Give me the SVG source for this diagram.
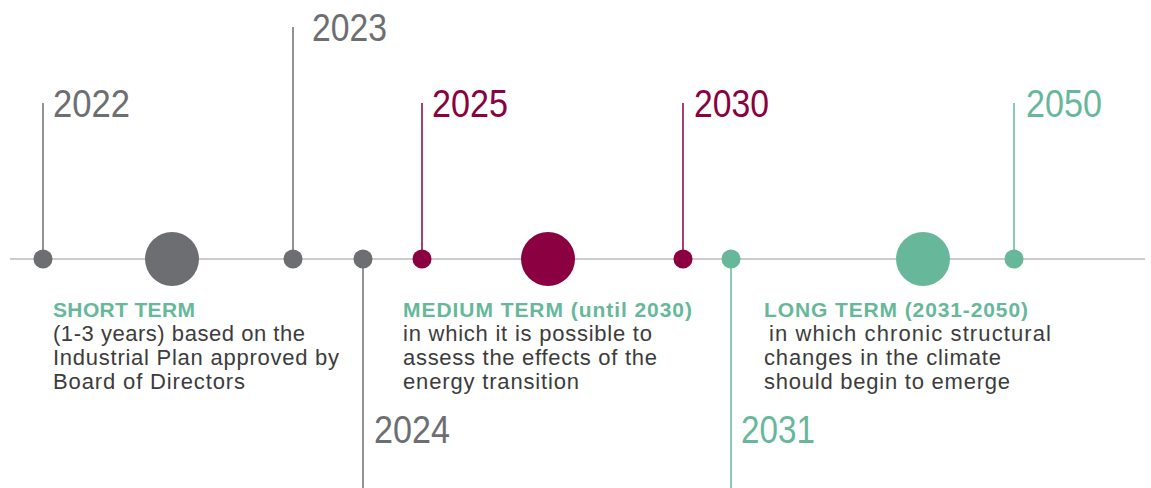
<svg xmlns="http://www.w3.org/2000/svg" width="1151" height="488" viewBox="0 0 1151 488">
<style>
.axis{stroke:#cccccc;stroke-width:2;fill:none}
.g{fill:#6d6e71}.m{fill:#8a0040}.t{fill:#67b89a}
.lg{stroke:#6d6e71;stroke-width:1.5}.lm{stroke:#8a0040;stroke-width:1.5}.lt{stroke:#67b89a;stroke-width:1.5}
.yr{font-family:"Liberation Sans",Arial,sans-serif;font-size:38px}
.hd{font-family:"Liberation Sans",Arial,sans-serif;font-size:21px;font-weight:bold;fill:#67b89a}
.bd{font-family:"Liberation Sans",Arial,sans-serif;font-size:22px;fill:#3c3c3c}
</style>
<g id="connectors">
<line class="axis" x1="10" y1="259" x2="1145" y2="259"/>
<line class="lg" x1="43" y1="103" x2="43" y2="259"/>
<line class="lg" x1="293" y1="27" x2="293" y2="259"/>
<line class="lg" x1="363" y1="259" x2="363" y2="488"/>
<line class="lm" x1="422" y1="103" x2="422" y2="259"/>
<line class="lm" x1="683" y1="103" x2="683" y2="259"/>
<line class="lt" x1="731" y1="259" x2="731" y2="488"/>
<line class="lt" x1="1014" y1="103" x2="1014" y2="259"/>
</g>
<g id="y2022"><circle class="g" cx="43" cy="259" r="9.5"/><text class="yr g" x="53" y="117" textLength="77" lengthAdjust="spacingAndGlyphs">2022</text></g>
<g id="short-dot"><circle class="g" cx="172" cy="259" r="27"/></g>
<g id="y2023"><circle class="g" cx="293" cy="259" r="9.5"/><text class="yr g" x="312" y="41" textLength="75" lengthAdjust="spacingAndGlyphs">2023</text></g>
<g id="y2024"><circle class="g" cx="363" cy="259" r="9.5"/><text class="yr g" x="374" y="443" textLength="76" lengthAdjust="spacingAndGlyphs">2024</text></g>
<g id="y2025"><circle class="m" cx="422" cy="259" r="9.5"/><text class="yr m" x="432" y="117" textLength="76" lengthAdjust="spacingAndGlyphs">2025</text></g>
<g id="medium-dot"><circle class="m" cx="548" cy="259" r="27"/></g>
<g id="y2030"><circle class="m" cx="683" cy="259" r="9.5"/><text class="yr m" x="694" y="117" textLength="75" lengthAdjust="spacingAndGlyphs">2030</text></g>
<g id="y2031"><circle class="t" cx="731" cy="259" r="9.5"/><text class="yr t" x="741" y="443" textLength="74" lengthAdjust="spacingAndGlyphs">2031</text></g>
<g id="long-dot"><circle class="t" cx="923" cy="259" r="27"/></g>
<g id="y2050"><circle class="t" cx="1014" cy="259" r="9.5"/><text class="yr t" x="1026" y="117" textLength="76" lengthAdjust="spacingAndGlyphs">2050</text></g>
<g id="short-term">
<text class="hd" x="53" y="317" textLength="142">SHORT TERM</text>
<text class="bd" x="53" y="341" textLength="252">(1-3 years) based on the</text>
<text class="bd" x="53" y="365" textLength="286">Industrial Plan approved by</text>
<text class="bd" x="53" y="389" textLength="192">Board of Directors</text>
</g>
<g id="medium-term">
<text class="hd" x="403" y="317" textLength="289">MEDIUM TERM (until 2030)</text>
<text class="bd" x="403" y="341" textLength="249">in which it is possible to</text>
<text class="bd" x="403" y="365" textLength="254">assess the effects of the</text>
<text class="bd" x="403" y="389" textLength="176">energy transition</text>
</g>
<g id="long-term">
<text class="hd" x="764" y="317" textLength="264">LONG TERM (2031-2050)</text>
<text class="bd" x="769" y="341" textLength="282">in which chronic structural</text>
<text class="bd" x="764" y="365" textLength="237">changes in the climate</text>
<text class="bd" x="764" y="389" textLength="246">should begin to emerge</text>
</g>
</svg>
